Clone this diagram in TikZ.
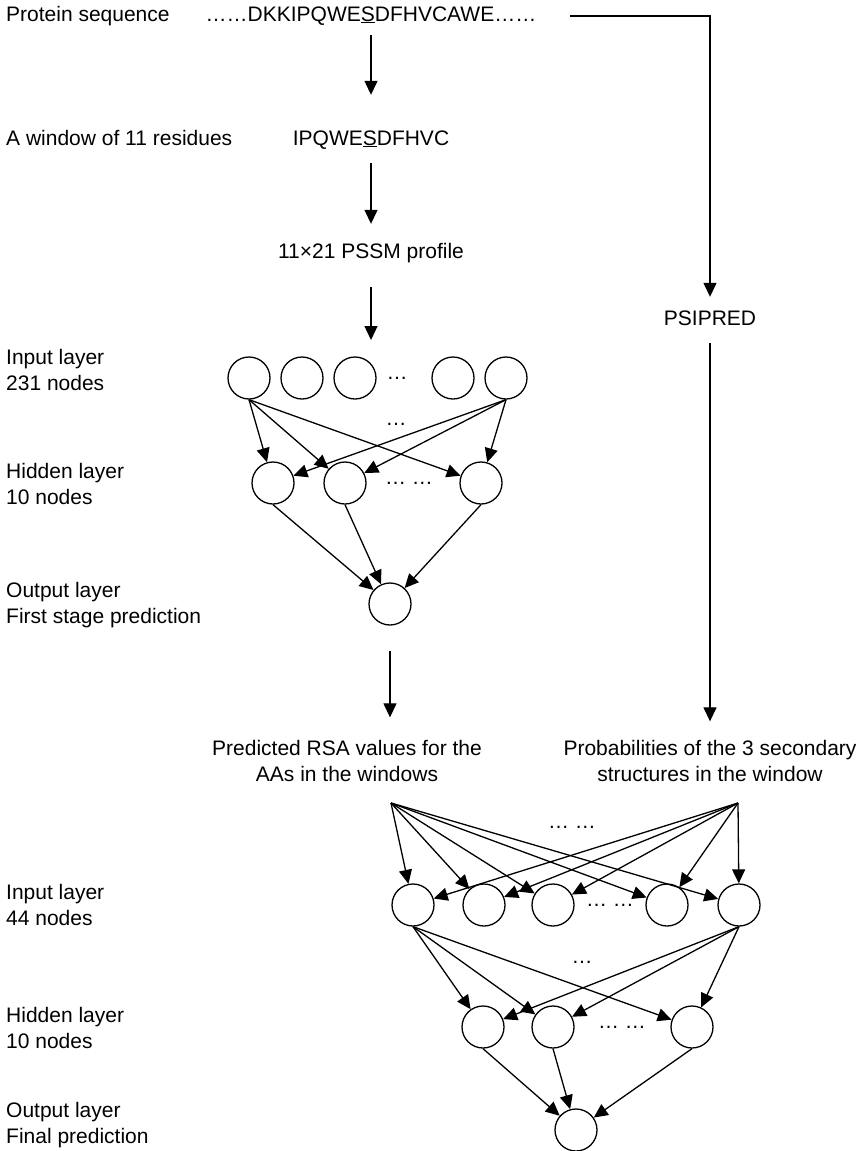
\documentclass[tikz,border=0pt]{standalone}
\usepackage{fontspec}
\setmainfont{Liberation Sans}
\usetikzlibrary{arrows.meta, positioning}

\begin{document}
\begin{tikzpicture}[
    x=1pt, y=-1pt,
    font=\fontsize{21}{25.5}\selectfont,
    txt/.style={inner sep=0pt, text height=15pt, text depth=5pt},
    lbl/.style={inner sep=0pt, align=left, anchor=west},
    caption/.style={inner sep=0pt, align=center},
    neuron/.style={circle, draw, line width=1.3pt, minimum size=42pt, inner sep=0pt},
    dots/.style={inner sep=0pt},
    arrow/.style={-{Triangle[length=14pt, width=13pt]}, line width=1.3pt},
]
\useasboundingbox (0,0) rectangle (865,1151);

% Left labels
\node[txt, anchor=west] (psL) at (6,16) {Protein sequence};
\node[txt, anchor=west] (winL) at (6,140) {A window of 11 residues};
\node[lbl] (inA) at (6,370) {Input layer\\231 nodes};
\node[lbl] (hidA) at (6,484) {Hidden layer\\10 nodes};
\node[lbl] (outA) at (6,605) {Output layer\\First stage prediction};
\node[lbl] (inB) at (6,905) {Input layer\\44 nodes};
\node[lbl] (hidB) at (6,1028) {Hidden layer\\10 nodes};
\node[lbl] (outB) at (6,1125) {Output layer\\Final prediction};

% Sequence, window, profile
\node[txt] (seq) at (371,16) {……DKKIPQWE\underline{S}DFHVCAWE……};
\node[txt] (win) at (371,140) {IPQWE\underline{S}DFHVC};
\node[txt] (pssm) at (371,253) {11×21 PSSM profile};
\node[txt] (psi) at (710,320) {PSIPRED};
\coordinate (inl) at (371,340);

% First network
\node[neuron] (i1) at (249,378) {};
\node[neuron] (i2) at (302,378) {};
\node[neuron] (i3) at (355,378) {};
\node[dots] (idots) at (397,378) {…};
\node[neuron] (i4) at (453,378) {};
\node[neuron] (i5) at (506,378) {};
\node[dots] (mdots) at (396,424) {…};
\node[neuron] (h1) at (273,483) {};
\node[neuron] (h2) at (345,483) {};
\node[dots] (hdots) at (409,483) {… …};
\node[neuron] (h3) at (481,483) {};
\node[neuron] (o) at (390,604) {};

% Inputs of second stage
\node[caption] (rsa) at (347,761) {Predicted RSA values for the\\AAs in the windows};
\node[caption] (prob) at (710,761) {Probabilities of the 3 secondary\\structures in the window};
\coordinate (sl) at (391,803);
\coordinate (sr) at (738,803);

% Second network
\node[dots] (tdots) at (572,827) {… …};
\node[neuron] (j1) at (413,905) {};
\node[neuron] (j2) at (484,905) {};
\node[neuron] (j3) at (553,905) {};
\node[dots] (jdots) at (610,905) {… …};
\node[neuron] (j4) at (667,905) {};
\node[neuron] (j5) at (739,905) {};
\node[dots] (m2dots) at (582,962) {…};
\node[neuron] (k1) at (483,1027) {};
\node[neuron] (k2) at (553,1027) {};
\node[dots] (kdots) at (622,1027) {… …};
\node[neuron] (k3) at (692,1027) {};
\node[neuron] (f) at (576,1130) {};

% Arrows
\draw[arrow, shorten <=9pt, shorten >=35pt] (seq) -- (win);
\draw[arrow, shorten <=13pt, shorten >=19pt] (win) -- (pssm);
\draw[arrow, shorten <=24pt] (pssm) -- (inl);
\draw[arrow, shorten <=34pt, shorten >=13pt] (seq.east) -| (psi.north);
\draw[arrow, shorten <=13pt, shorten >=19pt] (psi) -- (prob);
\draw[arrow, shorten <=25pt, shorten >=23pt] (o) -- (o |- rsa.north);

% First network arrows
\draw[arrow] (i1.south) -- (h1);
\draw[arrow] (i1.south) -- (h2);
\draw[arrow] (i1.south) -- (h3);
\draw[arrow] (i5.south) -- (h1);
\draw[arrow] (i5.south) -- (h2);
\draw[arrow] (i5.south) -- (h3);
\draw[arrow] (h1.south) -- (o);
\draw[arrow] (h2.south) -- (o);
\draw[arrow] (h3.south) -- (o);

% Second network arrows
\draw[arrow] (sl) -- (j1);
\draw[arrow] (sl) -- (j2);
\draw[arrow] (sl) -- (j3);
\draw[arrow] (sl) -- (j4);
\draw[arrow] (sl) -- (j5);
\draw[arrow] (sr) -- (j1);
\draw[arrow] (sr) -- (j2);
\draw[arrow] (sr) -- (j3);
\draw[arrow] (sr) -- (j4);
\draw[arrow] (sr) -- (j5);
\draw[arrow] (j1.south) -- (k1);
\draw[arrow] (j1.south) -- (k2);
\draw[arrow] (j1.south) -- (k3);
\draw[arrow] (j5.south) -- (k1);
\draw[arrow] (j5.south) -- (k2);
\draw[arrow] (j5.south) -- (k3);
\draw[arrow] (k1.south) -- (f);
\draw[arrow] (k2.south) -- (f);
\draw[arrow] (k3.south) -- (f);

\end{tikzpicture}
\end{document}
